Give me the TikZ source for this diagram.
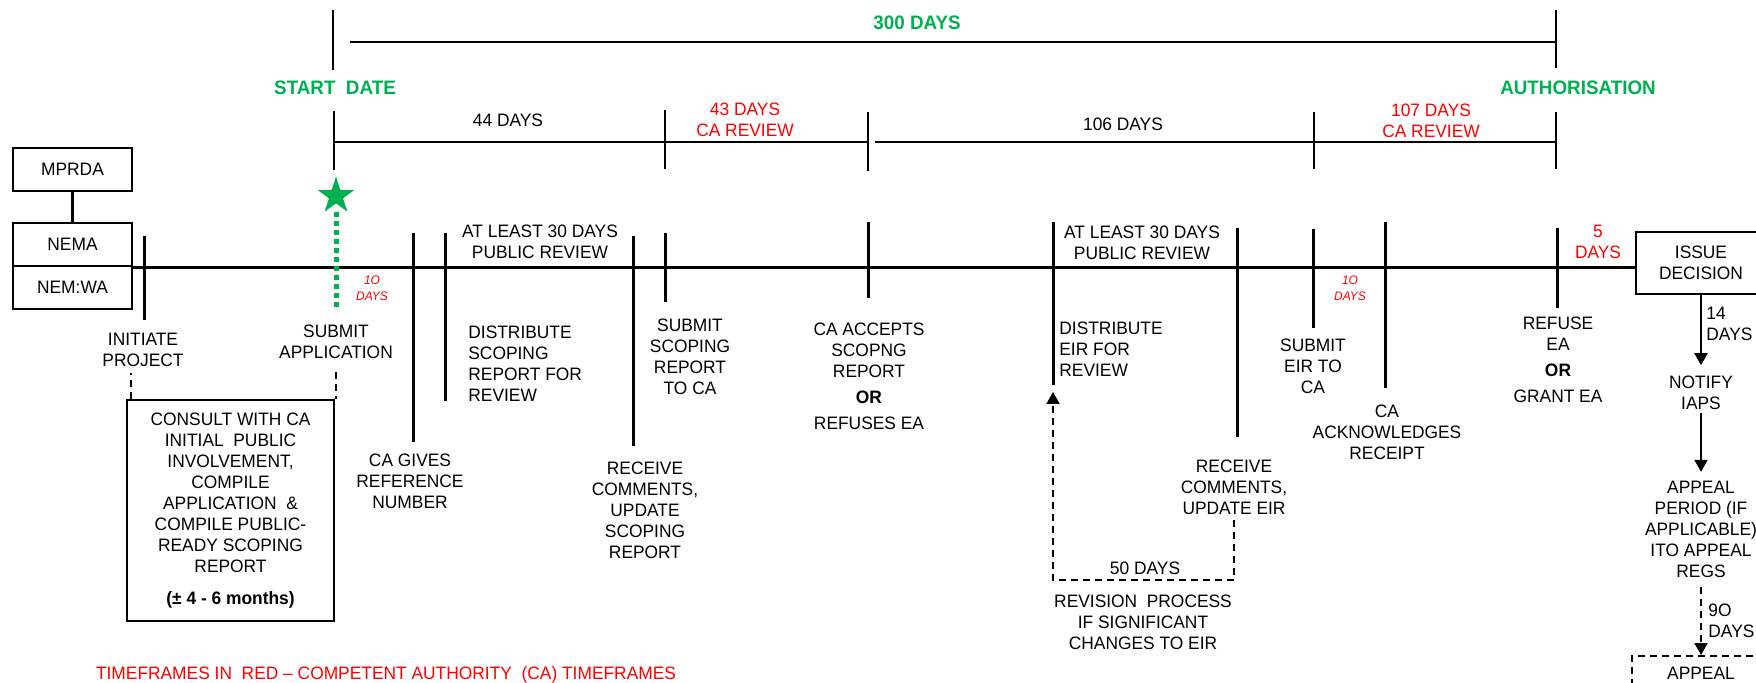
\documentclass[tikz,border=0pt]{standalone}
\usepackage{fontspec}
\setmainfont{Liberation Sans}[FakeStretch=0.965]
\usepackage{tikz}
\usetikzlibrary{shapes.geometric,arrows.meta}
\definecolor{okgreen}{RGB}{0,176,80}
\definecolor{okred}{RGB}{255,0,0}

\begin{document}
\begin{tikzpicture}[x=0.5pt,y=-0.5pt,
  every node/.style={font=\fontsize{9}{10.5}\selectfont,align=center,inner sep=0pt},
  heading/.style={text=okgreen,font=\fontsize{9.75}{11}\bfseries},
  catime/.style={text=okred},
  smallred/.style={text=okred,font=\fontsize{6.2}{8}\itshape},
  blockbox/.style={draw,line width=1.3pt},
  mainline/.style={line width=1.4pt},
  tickline/.style={line width=1.5pt},
  scaleline/.style={line width=0.9pt},
  dashline/.style={line width=1pt,dash pattern=on 3.5pt off 2.5pt},
  tipped/.style={-{Triangle[width=6.5pt,length=6pt]}},
  greendots/.style={okgreen,line width=2.5pt,dash pattern=on 2.5pt off 2pt}]
\useasboundingbox (0,0) rectangle (1756,683);
\clip (0,0) rectangle (1756,683);

\node[heading] (days300) at (917,23) {300 DAYS};
\node[heading] (startdate) at (335,88) {START\ \ DATE};
\node[heading] (authorisation) at (1578,88) {AUTHORISATION};
\draw[scaleline] (350,42) -- (1556,42);
\draw[scaleline] (334,142) -- (868,142) (875,142) -- (1556,142);
\foreach \x/\a/\b in {333/10/70, 1556/10/68, 334/111/170, 665/110/169, 868/112/171, 1314/112/169, 1556/112/169}
  \draw[scaleline] (\x,\a) -- (\x,\b);
\node (d44) at (508,120) {44 DAYS};
\node[catime] (d43) at (745,120) {43 DAYS\\CA REVIEW};
\node (d106) at (1123,124) {106 DAYS};
\node[catime] (d107) at (1431,120.5) {107 DAYS\\CA REVIEW};

\node[blockbox,minimum width=59.5pt,minimum height=21.5pt] (mprda) at (72.5,169.5) {MPRDA};
\node[blockbox,minimum width=59.5pt,minimum height=21.5pt] (nema) at (72.5,244.5) {NEMA};
\node[blockbox,minimum width=59.5pt,minimum height=21.5pt] (nemwa) at (72.5,287.5) {NEM:WA};
\draw[line width=1.3pt] (mprda) -- (nema);
\node[blockbox,minimum width=65pt,minimum height=31pt] (issue) at (1701,263) {ISSUE\\DECISION};
\draw[mainline] (nema.south east) -- (nema.south east -| issue.west);
\foreach \n/\x/\a/\b in {1/144/236/320, 2/413/233/442, 3/445/233/401, 4/633/236/446, 5/665/233/302, 6/868/222/298, 7/1053/222/385, 8/1237/228/437, 9/1313/229/328, 10/1385/222/388, 11/1557/228/308}{
  \coordinate (t\n) at (\x,\b);
  \draw[tickline] (\x,\a) -- (t\n);
}

\node[star,star points=5,star point ratio=2.6,fill=okgreen,minimum size=19.3pt] (star) at (336,196) {};
\node[smallred] (ten1) at (372,288) {1O\\DAYS};
\node[smallred] (ten2) at (1350,288) {1O\\DAYS};
\node (initiate) at (143,350) {INITIATE\\PROJECT};
\node (subapp) at (336,341.5) {SUBMIT\\APPLICATION};
\draw[greendots,shorten >=7pt] ([yshift=-8pt]star.center) -- (subapp);
\node[blockbox,minimum width=103.5pt,minimum height=110.5pt] (consult) at (230.5,510.5)
  {CONSULT WITH CA\\INITIAL\ \ PUBLIC\\INVOLVEMENT,\\COMPILE\\APPLICATION\ \ \&\\COMPILE PUBLIC-\\READY SCOPING\\REPORT\\[5.5pt]\textbf{(± 4 - 6 months)}};
\draw[dashline,shorten >=2.75pt] ([xshift=2.5pt]consult.north west) -- ([xshift=2.5pt]consult.north west |- initiate.south);
\draw[dashline,shorten <=6.75pt] (subapp.south) -- (subapp.south |- consult.north);
\node (refno) at (410,481) {CA GIVES\\REFERENCE\\NUMBER};
\node[anchor=west,align=left] (distscope) at (468,363.5) {DISTRIBUTE\\SCOPING\\REPORT FOR\\REVIEW};
\node (review1) at (540,241.5) {AT LEAST 30 DAYS\\PUBLIC REVIEW};
\node (subscope) at (690,356.5) {SUBMIT\\SCOPING\\REPORT\\TO CA};
\node (recv1) at (645,510) {RECEIVE\\COMMENTS,\\UPDATE\\SCOPING\\REPORT};
\node (accepts) at (869,376.5) {CA ACCEPTS\\SCOPNG\\REPORT\\[2.5pt]\textbf{OR}\\[2.5pt]REFUSES EA};
\node (review2) at (1142,242.5) {AT LEAST 30 DAYS\\PUBLIC REVIEW};
\node[anchor=west,align=left] (disteir) at (1059,349) {DISTRIBUTE\\EIR FOR\\REVIEW};
\node (recv2) at (1234,487) {RECEIVE\\COMMENTS,\\UPDATE EIR};
\node (days50) at (1145,568) {50 DAYS};
\node (revision) at (1143,622) {REVISION\ \ PROCESS\\IF SIGNIFICANT\\CHANGES TO EIR};
\coordinate (loop) at (1053,580);
\draw[dashline,tipped,shorten <=2.75pt] (recv2.south) |- (loop) -- ([yshift=-3.5pt]t7);
\node (subeir) at (1313,366) {SUBMIT\\EIR TO\\CA};
\node (acknow) at (1387,432) {CA\\ACKNOWLEDGES\\RECEIPT};
\node (decide) at (1558,359.5) {REFUSE\\EA\\[2.5pt]\textbf{OR}\\[2.5pt]GRANT EA};
\node[catime] (days5) at (1598,241.5) {5\\DAYS};

\node (notify) at (1701,392.5) {NOTIFY\\IAPS};
\node[anchor=west,align=left] (days14) at (1706,323.5) {14\\DAYS};
\draw[line width=1pt,tipped,shorten >=5pt] (issue) -- (notify);
\node (appeal) at (1701,529) {APPEAL\\PERIOD (IF\\APPLICABLE)\\ITO APPEAL\\REGS};
\draw[line width=1pt,tipped,shorten <=1.75pt,shorten >=4.25pt] (notify) -- (appeal);
\node[draw,dashline,anchor=north,inner sep=5.75pt,text depth=25pt,minimum width=69pt] (appealbox) at (1701,655) {APPEAL};
\node[anchor=west,align=left] (days90) at (1708,621) {9O\\DAYS};
\draw[dashline,tipped,shorten <=4.75pt] (appeal) -- (appealbox);

\node[catime] (footnote) at (386,675) {TIMEFRAMES IN\ \ RED – COMPETENT AUTHORITY\ \ (CA) TIMEFRAMES};
\end{tikzpicture}
\end{document}
